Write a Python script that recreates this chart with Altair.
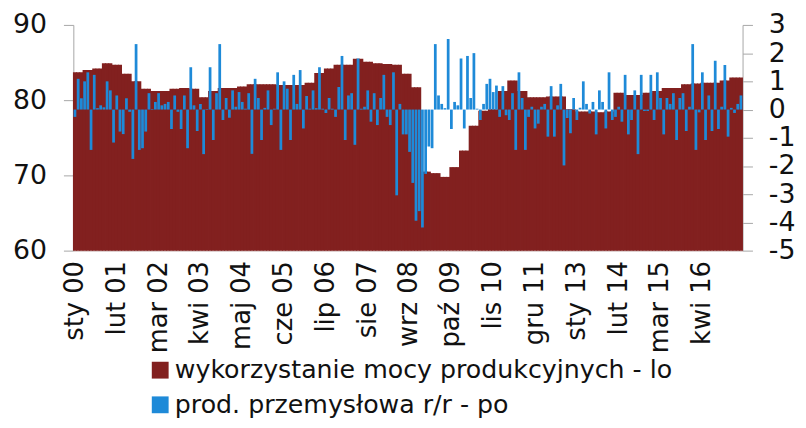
import altair as alt
import pandas as pd

# ---- data -------------------------------------------------------------
month_names = ["sty", "lut", "mar", "kwi", "maj", "cze",
               "lip", "sie", "wrz", "paź", "lis", "gru"]
start_year = 2000
n_months = 208

# capacity utilisation (quarterly, %) - left axis
capacity_q = [
    83.7, 84.0, 84.2, 84.9, 84.7, 83.5, 82.5, 81.5, 81.2, 81.2,
    81.5, 81.6, 81.5, 80.4, 81.2, 81.6, 81.6, 81.8, 82.1, 82.1,
    82.1, 82.0, 82.0, 82.0, 82.3, 83.6, 84.2, 84.7, 84.7, 85.5,
    85.1, 84.9, 84.8, 84.7, 83.5, 81.7, 70.5, 70.3, 69.8, 71.1,
    73.3, 76.6, 78.6, 78.8, 81.2, 82.6, 81.2, 80.4, 80.4, 80.5,
    80.5, 78.8, 78.5, 78.5, 78.4, 78.5, 81.0, 80.7, 80.7, 81.0,
    81.2, 81.6, 81.6, 82.1, 82.2, 82.3, 82.3, 82.6, 83.0, 83.0,
]

# industrial production (monthly) - right axis
production = [
    -0.26, 1.09, 0.40, 1.00, 1.32, -1.43, 1.23, 0.05, 0.15, 0.08,
    1.00, 0.68, -1.17, 0.50, -0.78, -0.87, 0.40, -0.08, -1.75, 2.32,
    -1.43, -1.37, -0.78, 0.58, 0.02, 0.27, 0.58, 0.15, 0.20, 0.27,
    -0.69, 0.50, -0.08, -0.69, 0.50, -1.37, 1.50, 0.15, -0.76, 0.20,
    -1.58, 0.02, 1.50, -1.08, 0.58, 2.32, -0.37, 0.41, -0.29, 0.68,
    0.10, 0.62, 0.27, 0.03, 0.58, -1.57, 1.09, 0.41, -1.08, 0.06,
    0.68, -0.55, 0.03, 1.32, -1.43, 1.00, 0.74, -1.08, 1.23, 0.20,
    1.40, -0.67, 0.48, 0.03, 0.68, 0.05, 1.50, 0.03, -0.12, 0.41,
    0.03, -0.26, 0.80, 1.90, -1.08, 0.50, 0.58, -1.25, 1.81, 0.03,
    0.10, 0.68, -0.43, 0.58, -0.55, 0.41, 1.23, -0.26, -0.55, 1.32,
    -3.04, 0.20, -0.88, -0.88, -1.50, -2.60, -3.94, -3.60, -4.18, -2.28,
    -1.31, -1.37, 2.32, 0.50, 0.20, 0.05, 2.50, -0.69, 0.27, 0.15,
    1.81, -0.67, 1.90, 0.41, 2.00, 0.03, -0.37, 0.20, 0.91, 1.09,
    0.62, 0.85, -0.26, 0.83, -0.20, -0.37, 0.58, -1.43, 1.32, 0.41,
    -1.43, -0.26, 0.10, -0.67, -0.50, 0.10, 0.20, -0.96, 0.83, -0.96,
    0.15, 0.91, -1.98, -0.30, -0.84, 0.41, -0.37, 0.06, 1.00, 0.20,
    -0.14, 0.27, -0.88, 0.68, 0.27, -0.67, 1.32, -0.37, -0.26, 0.10,
    -0.43, 1.23, -0.88, -0.37, 0.68, -1.58, 1.23, -0.05, -0.05, 1.23,
    -0.37, 1.32, 0.41, -0.88, 0.41, 0.20, 0.58, -1.08, 0.41, 0.58,
    -0.76, 0.10, 2.32, -1.43, -0.10, 1.32, -1.08, 0.50, -0.76, 1.73,
    -0.69, 0.10, 1.58, -0.96, 0.06, -0.12, 0.20, 0.50,
]

series_names = ["wykorzystanie mocy produkcyjnych - lo",
                "prod. przemysłowa r/r - po"]
colors = ["#82201f", "#1e8ad8"]

labels = [f"{month_names[i % 12]} {(start_year + i // 12) % 100:02d}"
          for i in range(n_months)]
tick_labels = labels[::13]

df = pd.DataFrame({
    "month": labels,
    "capacity": [capacity_q[i // 3] for i in range(n_months)],
    "production": production,
})

FONT = "DejaVu Sans"
AX_GRAY = "#a6a6a6"

x_enc = alt.X(
    "month:N", sort=labels,
    scale=alt.Scale(paddingInner=0, paddingOuter=0),
    axis=alt.Axis(values=tick_labels, labelAngle=-90, labelAlign="right",
                  labelBaseline="middle", ticks=False, labelPadding=10,
                  labelFontSize=26, labelOverlap=False, labelBound=False,
                  title=None, domainColor="#c9b3b3", labelColor="#111111",
                  labelFont=FONT),
)

color_scale = alt.Scale(domain=series_names, range=colors)

base = alt.Chart(df)

cap = base.transform_calculate(series=f"'{series_names[0]}'").mark_bar(
    width=alt.RelativeBandSize(1.25)
).encode(
    x=x_enc,
    y=alt.Y("capacity:Q",
            scale=alt.Scale(domain=[60, 90], zero=False, nice=False),
            axis=alt.Axis(values=[60, 70, 80, 90], orient="left", grid=False,
                          tickSize=10, labelPadding=17, labelFontSize=27,
                          domainColor=AX_GRAY, tickColor=AX_GRAY,
                          labelColor="#111111", labelFont=FONT, title=None)),
    y2=alt.datum(60),
    color=alt.Color("series:N", scale=color_scale,
                    legend=alt.Legend(orient="none", legendX=75, legendY=336,
                                      direction="vertical", title=None,
                                      symbolType="square", symbolSize=289,
                                      labelFontSize=25.5, labelFont=FONT,
                                      labelColor="#111111", rowPadding=8,
                                      labelOffset=2, padding=0, labelLimit=0)),
)

prod = base.transform_calculate(series=f"'{series_names[1]}'").mark_bar(
    width=alt.RelativeBandSize(0.85)
).encode(
    x=x_enc,
    y=alt.Y("production:Q",
            scale=alt.Scale(domain=[-5, 3], nice=False, zero=False),
            axis=alt.Axis(values=list(range(-5, 4)), orient="right", grid=False,
                          tickSize=10, labelPadding=16, labelFontSize=27,
                          domainColor=AX_GRAY, tickColor=AX_GRAY,
                          labelColor="#111111", labelFont=FONT, title=None,
                          labelExpr="'' + datum.value")),
    y2=alt.datum(0),
    color=alt.Color("series:N", scale=color_scale),
)

chart = alt.layer(cap, prod).resolve_scale(y="independent").properties(
    width=676, height=228,
    padding={"left": 66, "top": 15, "right": 56, "bottom": 169},
    autosize=alt.AutoSizeParams(type="none"),
).configure_view(stroke=None)

chart.save("out.html", embed_options={"renderer": "svg", "actions": False})
